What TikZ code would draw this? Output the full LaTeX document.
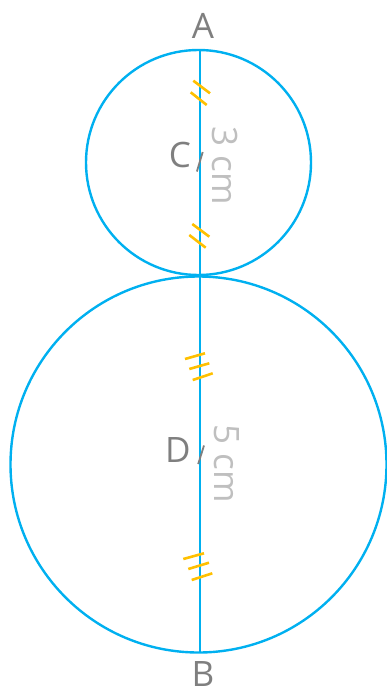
\documentclass[tikz,border=0pt]{standalone}
\usepackage{fontspec}
\setmainfont{Open Sans}
\definecolor{cblue}{HTML}{00B0F0}
\definecolor{tick}{HTML}{FFC000}
\definecolor{lab}{HTML}{7F7F7F}
\definecolor{meas}{HTML}{BFBFBF}
\begin{document}
\begin{tikzpicture}[x=1pt,y=-1pt,
  circ/.style={draw=cblue,line width=2.4pt},
  diam/.style={draw=cblue,line width=2.6pt},
  tickmark/.style={draw=tick,line width=2.6pt},
  ptlabel/.style={inner sep=0pt,text=lab,font=\fontsize{35}{40}\selectfont},
  measlabel/.style={inner sep=0pt,text=meas,rotate=-90,font=\fontsize{35}{40}\selectfont},
  centremark/.style={draw=lab,line width=1.8pt}]
\useasboundingbox (0,0) rectangle (387,695);
% centres and ends
\coordinate (C) at (198.5,162.5);
\coordinate (D) at (198.5,464.5);
\coordinate (top) at (200,49.5);
\coordinate (bot) at (200,652.5);
% circles
\draw[circ] (C) circle (112.5);
\draw[circ] (D) circle (188);
% diameter line
\draw[diam] (top) -- (bot);
% tick marks
\draw[tickmark] (193.3,80.7) -- (210,93.3);
\draw[tickmark] (190.7,92.3) -- (206.7,105);
\draw[tickmark] (192.3,224) -- (209.3,236.7);
\draw[tickmark] (189.3,235) -- (205.7,247.7);
\draw[tickmark] (185,359) -- (205,353.3);
\draw[tickmark] (189.3,369) -- (209.3,363.3);
\draw[tickmark] (192.7,380) -- (212.7,373.3);
\draw[tickmark] (183.3,559) -- (204,553.3);
\draw[tickmark] (188.3,569) -- (209,562.7);
\draw[tickmark] (191.7,580) -- (212.3,573.3);
% centre marks
\draw[centremark] (202.7,152) -- (196.9,171.5);
\draw[centremark] (204,445.5) -- (198.2,464);
% labels
\node[ptlabel] (lA) at (203,26) {A};
\node[ptlabel] (lB) at (203,674) {B};
\node[ptlabel] (lC) at (180,155) {C};
\node[ptlabel] (lD) at (178,450) {D};
\node[measlabel] (m3) at (225,166) {3 cm};
\node[measlabel] (m5) at (227,464) {5 cm};
\end{tikzpicture}
\end{document}
